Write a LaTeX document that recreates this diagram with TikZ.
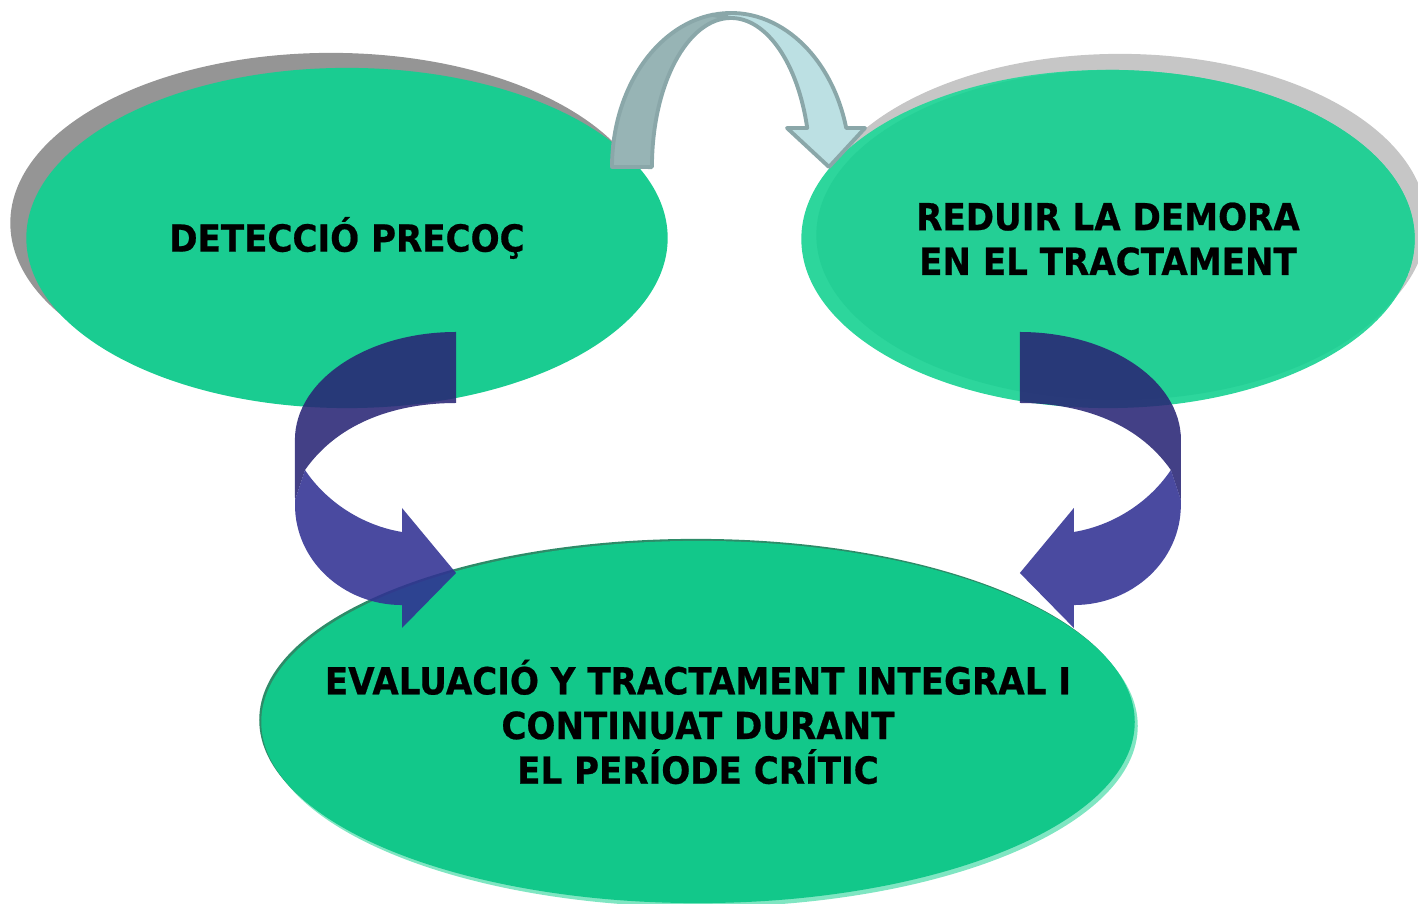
\documentclass[tikz,border=0pt]{standalone}
\usepackage{fontspec}
\newfontfamily\etiqueta{DejaVu Sans}[FakeStretch=0.915, BoldFeatures={FakeBold=0.6}]
\usetikzlibrary{shapes.geometric, shadows}

\definecolor{verdeDet}{HTML}{1ACC91}
\definecolor{sombraDet}{HTML}{959595}
\definecolor{verdeRed}{HTML}{24CF95}
\definecolor{bordeRed}{HTML}{2DD69C}
\definecolor{sombraRed}{HTML}{C6C6C6}
\definecolor{verdeEva}{HTML}{12C88A}
\definecolor{claroEva}{HTML}{7FE6C2}
\definecolor{oscuroEva}{HTML}{2E8B68}
\definecolor{grisIzq}{HTML}{97B4B5}
\definecolor{celesteDer}{HTML}{BCE0E3}
\definecolor{bordeFlecha}{HTML}{8AA7A9}
\definecolor{azulSup}{HTML}{292575}
\definecolor{azulInf}{HTML}{313193}

\begin{document}
\begin{tikzpicture}[x=0.01cm, y=0.01cm,
    etapa/.style={ellipse, inner sep=0pt},
    texto/.style={align=center, text=black,
      font=\etiqueta\bfseries\fontsize{10.6}{12.7}\selectfont},
    flechagris/.style={draw=bordeFlecha, line width=1.1pt, line join=round},
    flechaazul/.style={fill opacity=0.88}]
  \useasboundingbox (0,-904) rectangle (1418,0);
  % Elipses de las tres etapas
  \node[etapa, fill=verdeDet, minimum width=6.41cm, minimum height=3.40cm,
        general shadow={fill=sombraDet, shadow xshift=-0.16cm, shadow yshift=0.15cm},
        label={[texto]center:DETECCIÓ PRECOÇ}]
        (detec) at (347,-238) {};
  \node[etapa, fill=bordeRed, minimum width=6.13cm, minimum height=3.38cm,
        general shadow={fill=sombraRed, shadow xshift=0.12cm, shadow yshift=0.16cm},
        path picture={\fill[verdeRed] ([shift={(0.085cm,0.04cm)}]path picture bounding box.center)
          ellipse[x radius=3.0cm, y radius=1.65cm];},
        label={[texto]center:{REDUIR LA DEMORA\\EN EL TRACTAMENT}}]
        (reduir) at (1108,-239) {};
  \node[etapa, fill=verdeEva, minimum width=8.73cm, minimum height=3.62cm,
        general shadow={fill=claroEva, shadow xshift=0.03cm, shadow yshift=-0.04cm},
        general shadow={fill=oscuroEva, shadow xshift=-0.02cm, shadow yshift=0.02cm},
        label={[texto]center:{EVALUACIÓ Y TRACTAMENT INTEGRAL I\\CONTINUAT DURANT\\EL PERÍODE CRÍTIC}}]
        (evalua) at (698,-722) {};
  % Flecha superior (de detec a reduir)
  \filldraw[flechagris, fill=grisIzq] (612,-167)
      arc[start angle=180, end angle=99, x radius=1.19cm, y radius=1.54cm]
      -- (731,-18)
      arc[start angle=90, end angle=180, x radius=0.79cm, y radius=1.49cm] -- cycle;
  \filldraw[flechagris, fill=celesteDer] (712.4,-14.9)
      arc[start angle=99, end angle=14.7, x radius=1.19cm, y radius=1.54cm]
      -- (865,-128) -- (829,-167) -- (787,-128) -- (807.2,-128)
      arc[start angle=15.2, end angle=90, x radius=0.79cm, y radius=1.49cm] -- cycle;
  % Flechas azules hacia evalua
  \foreach \lado/\desp in {1/0, -1/14.75} {
    \begin{scope}[xshift=\desp cm, xscale=\lado]
      \fill[flechaazul, fill=azulSup] (456,-332)
          arc[start angle=90, end angle=180, x radius=1.61cm, y radius=1.08cm]
          -- (295,-500) -- (305,-470) .. controls (340,-420) and (400,-403) .. (456,-403) -- cycle;
      \fill[flechaazul, fill=azulInf] (295,-500) -- (295,-505)
          arc[start angle=180, end angle=270, x radius=1.07cm, y radius=1cm]
          -- (402,-628) -- (456,-573) -- (402,-508) -- (402,-532)
          .. controls (360,-525) and (325,-500) .. (305,-470) -- cycle;
    \end{scope}
  }
\end{tikzpicture}
\end{document}
